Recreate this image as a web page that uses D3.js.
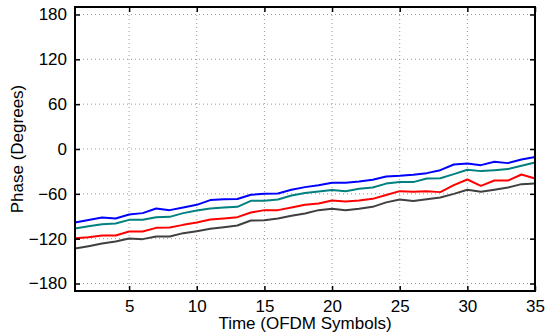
<!DOCTYPE html>
<html>
<head>
<meta charset="utf-8">
<script src="https://cdn.jsdelivr.net/npm/d3@7"></script>
<style>
  body { margin: 0; background: #fff; }
  text { font-family: "Liberation Sans", Arial, sans-serif; fill: #000; }
</style>
</head>
<body>
<div id="chart"></div>
<script>
// symbols 1..35
const symbols = d3.range(1, 36);
const blue = [-98.4, -95, -91.7, -93, -87.7, -85.8, -79.6, -81.8, -78.3, -74.7, -68.4, -67.1, -67, -61.3, -60, -59.6, -54.6, -51, -48.4, -45.2, -45.2, -43.5, -41.2, -36.8, -35.9, -34.5, -32.3, -28.3, -20.7, -19.4, -21.6, -17.1, -18.9, -14, -10.8];
const teal = [-106.4, -103.5, -100.6, -99.7, -94.8, -94.8, -91.2, -90.8, -85.8, -82.3, -79.6, -78.3, -77.4, -69.3, -69.3, -67.6, -62.2, -59, -56.9, -55, -56.4, -53.3, -51.5, -46.3, -44.3, -44.3, -39.5, -39.1, -33.6, -27.8, -29.6, -28.3, -26.9, -22.5, -18];
const red = [-119.3, -118, -115.8, -115.8, -110.4, -110.4, -105.5, -105.1, -101.5, -98.4, -94.4, -93, -91.2, -85, -81.8, -81.8, -78.3, -74.7, -73, -68.9, -70.3, -68.9, -66.7, -61.5, -56.4, -57.3, -56.4, -57.7, -48.4, -40.8, -49.3, -42.2, -42.2, -34.1, -39.5];
const gray = [-133.2, -130, -126.5, -123.8, -119.8, -120.6, -117.1, -117.1, -112.6, -109.9, -106.8, -104.6, -102.4, -95.7, -95.2, -93, -89.4, -86.3, -81.8, -80, -81.8, -80, -77.4, -71.4, -67.6, -69.7, -67.1, -64.9, -60, -54.6, -57.3, -54.6, -51.5, -47, -46.2];
const yTicks = [-180, -120, -60, 0, 60, 120, 180];
const xTicks = [5, 10, 15, 20, 25, 30, 35];

const series = [
  { values: gray, color: "#404040" },
  { values: red, color: "#ff0000" },
  { values: teal, color: "#008080" },
  { values: blue, color: "#0000ff" }
];

const W = 546, H = 335;
const m = { left: 75, right: 11, top: 7, bottom: 44 };
const iw = W - m.left - m.right, ih = H - m.top - m.bottom;

const svg = d3.select("#chart").append("svg")
  .attr("width", W).attr("height", H);

const x = d3.scaleLinear().domain([1, 35]).range([0, iw]);
const y = d3.scaleLinear().domain([-190, 190]).range([ih, 0]);

const g = svg.append("g").attr("transform", `translate(${m.left},${m.top})`);

// grid
g.append("g").selectAll("line").data(yTicks).join("line")
  .attr("x1", 0).attr("x2", iw)
  .attr("y1", d => y(d)).attr("y2", d => y(d))
  .attr("stroke", "#999").attr("stroke-width", 1).attr("stroke-dasharray", "1,3");
g.append("g").selectAll("line").data(xTicks).join("line")
  .attr("y1", 0).attr("y2", ih)
  .attr("x1", d => x(d)).attr("x2", d => x(d))
  .attr("stroke", "#999").attr("stroke-width", 1).attr("stroke-dasharray", "1,3");

// lines
const line = d3.line().x((d, i) => x(symbols[i])).y(d => y(d));
g.selectAll("path.series").data(series).join("path")
  .attr("class", "series")
  .attr("d", d => line(d.values))
  .attr("fill", "none")
  .attr("stroke", d => d.color)
  .attr("stroke-width", 2)
  .attr("stroke-linejoin", "round");

// axes (ticks inside, MATLAB style)
const fmt = d => d < 0 ? "\u2212" + Math.abs(d) : String(d);
const yAxis = g.append("g").call(d3.axisLeft(y).tickValues(yTicks).tickSize(-5).tickPadding(8).tickFormat(fmt));
const yAxisR = g.append("g").attr("transform", `translate(${iw},0)`)
  .call(d3.axisRight(y).tickValues(yTicks).tickSize(-5).tickFormat(""));
const xAxis = g.append("g").attr("transform", `translate(0,${ih})`)
  .call(d3.axisBottom(x).tickValues(xTicks).tickSize(-5).tickPadding(9).tickFormat(fmt));
const xAxisT = g.append("g")
  .call(d3.axisTop(x).tickValues(xTicks).tickSize(-5).tickFormat(""));

[yAxis, yAxisR, xAxis, xAxisT].forEach(a => {
  a.select(".domain").remove();
  a.selectAll(".tick line").attr("stroke", "#000").attr("stroke-width", 1.5);
  a.selectAll(".tick text").attr("font-size", 17).attr("font-family", "Liberation Sans, Arial, sans-serif");
});

// box
g.append("rect").attr("x", 0).attr("y", 0).attr("width", iw).attr("height", ih)
  .attr("fill", "none").attr("stroke", "#000").attr("stroke-width", 2);

// labels
svg.append("text")
  .attr("transform", `translate(23,${m.top + ih / 2}) rotate(-90)`)
  .attr("text-anchor", "middle").attr("font-size", 17)
  .text("Phase (Degrees)");
svg.append("text")
  .attr("x", m.left + iw / 2).attr("y", 329)
  .attr("text-anchor", "middle").attr("font-size", 17)
  .text("Time (OFDM Symbols)");
</script>
</body>
</html>
